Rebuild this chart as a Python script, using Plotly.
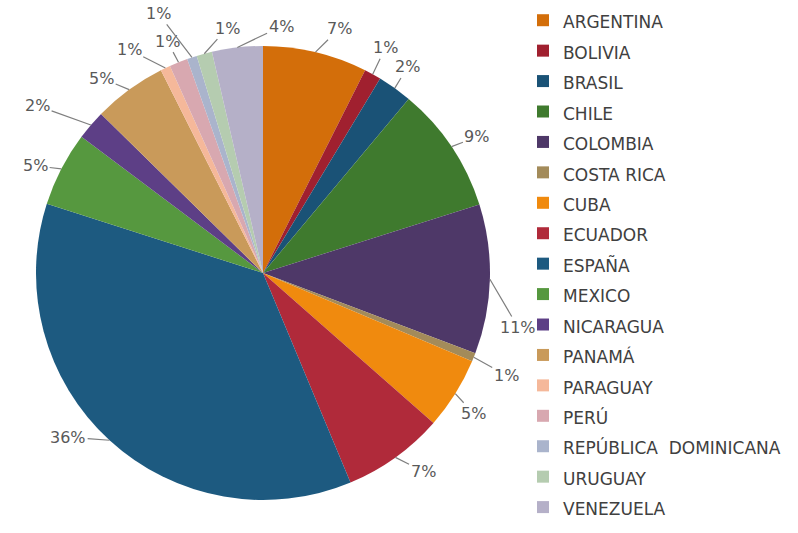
import math
import plotly.graph_objects as go

countries = ["ARGENTINA", "BOLIVIA", "BRASIL", "CHILE", "COLOMBIA", "COSTA RICA",
             "CUBA", "ECUADOR", "ESPAÑA", "MEXICO", "NICARAGUA", "PANAMÁ",
             "PARAGUAY", "PERÚ", "REPÚBLICA  DOMINICANA", "URUGUAY", "VENEZUELA"]
values = [7.4, 1.2, 2.45, 9.0, 10.6, 0.6, 5.1, 7.2, 36.1, 5.3, 2.1, 5.2, 0.7, 1.3, 0.7, 1.1, 3.6]
colors = ["#D36E0A", "#A0202F", "#1A5276", "#3F7A2E", "#4E3868", "#A38B5A",
          "#F08A0E", "#B02A3A", "#1D5A80", "#56983F", "#5D3F86", "#C99A5A",
          "#F5B89A", "#D8A8B0", "#AAB4CC", "#B5CCB0", "#B5B0C8"]

# label placement styling (angle shift in degrees, distance in px from centre)
label_shift = [3.3, -1, -1, 1, 10.6, 1.2, 2, -2.7, 7.8, -2.4, -4.5, -4, -6, -1.2, -4.3, 6, 10]
label_dist = [255, 255, 250, 251, 258, 261, 251, 253, 257, 254, 283, 255, 262, 252, 281, 248, 247]

W, H = 798, 533
CX, CY, R = 263, 273, 227

fig = go.Figure()
fig.add_trace(go.Pie(
    labels=[f'<span style="font-size:17px">{c}</span>' for c in countries],
    values=values,
    marker=dict(colors=colors, line=dict(width=0)),
    sort=False, direction="clockwise", rotation=0,
    textinfo="none", hoverinfo="label+percent",
    domain=dict(x=[(CX - R) / W, (CX + R) / W], y=[(H - CY - R) / H, (H - CY + R) / H]),
))

total = sum(values)
cum = 0.0
annotations = []
for v, sh, d in zip(values, label_shift, label_dist):
    mid = (cum + v / 2) / total * 360
    cum += v
    a = math.radians(mid)
    ex, ey = CX + R * math.sin(a), CY - R * math.cos(a)
    b = math.radians(mid + sh)
    tx, ty = CX + d * math.sin(b), CY - d * math.cos(b)
    annotations.append(dict(
        x=ex / W, y=1 - ey / H, xref="paper", yref="paper",
        ax=tx - ex + 3, ay=ty - ey, axref="pixel", ayref="pixel",
        text=f"{round(v / total * 100)}%", showarrow=True, arrowhead=0,
        arrowwidth=1.2, arrowcolor="#7F7F7F", standoff=0,
        font=dict(family="DejaVu Sans", size=16, color="#595959"),
    ))

fig.update_layout(
    width=W, height=H,
    margin=dict(l=0, r=0, t=0, b=0, autoexpand=False),
    paper_bgcolor="white", plot_bgcolor="white",
    showlegend=True,
    legend=dict(x=523 / W, xanchor="left", y=1, yanchor="top",
                font=dict(family="DejaVu Sans", size=21.1, color="#404040"),
                bgcolor="rgba(0,0,0,0)", traceorder="normal"),
    annotations=annotations,
)

fig.write_html("out.html", config={"displayModeBar": False},
               post_script="document.body.style.margin='0px';")
